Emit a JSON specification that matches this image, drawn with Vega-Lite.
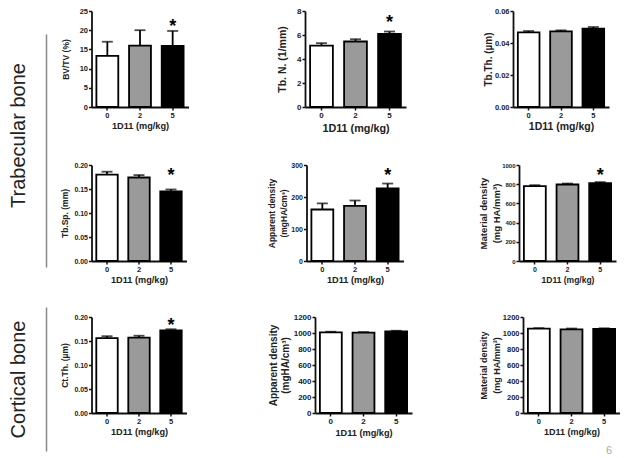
{
  "$schema": "https://vega.github.io/schema/vega-lite/v6.json",
  "background": "white",
  "padding": {"left": 7, "top": 7, "right": 0, "bottom": 0},
  "title": {"text": "6", "orient": "bottom", "anchor": "end", "color": "#aaaaaa", "fontSize": 11, "fontWeight": "normal", "font": "Liberation Sans", "offset": -6, "dx": -8},
  "config": {
    "view": {"stroke": null},
    "font": "Liberation Sans",
    "axis": {"grid": false, "minExtent": 0, "labelOverlap": false, "domainColor": "#111111", "domainWidth": 1.8, "tickColor": "#111111", "tickWidth": 1.5, "tickSize": 3, "labelFont": "Liberation Sans", "labelFontWeight": "bold", "labelColor": "#222222", "labelPadding": 1, "titleFont": "Liberation Sans", "titleFontWeight": "bold", "titleColor": "#222222"},
    "axisX": {"labelAngle": 0, "titlePadding": 3, "labelPadding": 1}
  },
  "hconcat": [
    {
      "vconcat": [
        {
          "width": 1, "height": 256,
          "data": {"values": [{"v": 0}]},
          "mark": {"type": "point", "opacity": 0, "size": 0},
          "encoding": {"y": {"field": "v", "type": "quantitative", "scale": {"domain": [0, 1], "range": [256, 23]}, "axis": {"title": "Trabecular bone", "labels": false, "ticks": false, "domainColor": "#888888", "domainWidth": 1.5, "titleFontSize": 20, "titleFontWeight": "normal", "titlePadding": 18, "titleColor": "#222222", "titleY": 124}}}
        },
        {
          "width": 1, "height": 144,
          "data": {"values": [{"v": 0}]},
          "mark": {"type": "point", "opacity": 0, "size": 0},
          "encoding": {"y": {"field": "v", "type": "quantitative", "scale": {"domain": [0, 1]}, "axis": {"title": "Cortical bone", "labels": false, "ticks": false, "domainColor": "#888888", "domainWidth": 1.5, "titleFontSize": 20, "titleFontWeight": "normal", "titlePadding": 18, "titleColor": "#222222"}}}
        }
      ],
      "spacing": 40
    },
    {
      "vconcat": [
        {
          "hconcat": [
            {
              "width": 97, "height": 96,
              "data": {"values": [
                {"dose": "0", "mean": 13.3, "upper": 17.0, "sig": ""},
                {"dose": "2", "mean": 16.0, "upper": 20.0, "sig": ""},
                {"dose": "5", "mean": 15.9, "upper": 19.8, "sig": "*"}
              ]},
              "encoding": {"x": {"field": "dose", "type": "nominal", "sort": ["0", "2", "5"], "scale": {"paddingInner": 0.33, "paddingOuter": 0.15}, "axis": {"title": "1D11 (mg/kg)", "titleFontSize": 9.2, "labelFontSize": 7.5}}},
              "layer": [
                {"mark": {"type": "rule", "strokeWidth": 1.8, "color": "#000000"}, "encoding": {"y": {"field": "mean", "type": "quantitative", "scale": {"domain": [0, 25], "nice": false}, "axis": {"values": [0, 5, 10, 15, 20, 25], "tickCount": 20, "labelOverlap": false, "format": "d", "title": "BV/TV (%)", "titleFontSize": 8.5, "titlePadding": 9, "labelFontSize": 7.5}}, "y2": {"field": "upper"}}},
                {"mark": {"type": "bar", "stroke": "#000000", "strokeWidth": 1.8}, "encoding": {"y": {"field": "mean", "type": "quantitative", "scale": {"domain": [0, 25], "nice": false}}, "fill": {"field": "dose", "type": "nominal", "scale": {"domain": ["0", "2", "5"], "range": ["#ffffff", "#9a9a9a", "#000000"]}, "legend": null}}},
                {"mark": {"type": "tick", "orient": "horizontal", "size": 11, "thickness": 1.8, "color": "#000000"}, "encoding": {"y": {"field": "upper", "type": "quantitative"}}},
                {"transform": [{"filter": "datum.sig != ''"}], "mark": {"type": "text", "fontSize": 18, "fontWeight": "bold", "baseline": "alphabetic", "dy": 1.5, "color": "#000000"}, "encoding": {"y": {"field": "upper", "type": "quantitative"}, "text": {"field": "sig"}}}
              ]
            },
            {
              "hconcat": [
                {
                  "width": 101, "height": 96,
                  "data": {"values": [
                    {"dose": "0", "mean": 5.12, "upper": 5.32, "sig": ""},
                    {"dose": "2", "mean": 5.46, "upper": 5.65, "sig": ""},
                    {"dose": "5", "mean": 6.09, "upper": 6.29, "sig": "*"}
                  ]},
                  "encoding": {"x": {"field": "dose", "type": "nominal", "sort": ["0", "2", "5"], "scale": {"paddingInner": 0.33, "paddingOuter": 0.15}, "axis": {"title": "1D11 (mg/kg)", "titleFontSize": 10.8, "labelFontSize": 8}}},
                  "layer": [
                    {"mark": {"type": "rule", "strokeWidth": 1.8, "color": "#000000"}, "encoding": {"y": {"field": "mean", "type": "quantitative", "scale": {"domain": [0, 8], "nice": false}, "axis": {"values": [0, 2, 4, 6, 8], "tickCount": 20, "labelOverlap": false, "format": "d", "title": "Tb. N. (1/mm)", "titleFontSize": 10.5, "titlePadding": 9, "labelFontSize": 8}}, "y2": {"field": "upper"}}},
                    {"mark": {"type": "bar", "stroke": "#000000", "strokeWidth": 1.8}, "encoding": {"y": {"field": "mean", "type": "quantitative", "scale": {"domain": [0, 8], "nice": false}}, "fill": {"field": "dose", "type": "nominal", "scale": {"domain": ["0", "2", "5"], "range": ["#ffffff", "#9a9a9a", "#000000"]}, "legend": null}}},
                    {"mark": {"type": "tick", "orient": "horizontal", "size": 11, "thickness": 1.8, "color": "#000000"}, "encoding": {"y": {"field": "upper", "type": "quantitative"}}},
                    {"transform": [{"filter": "datum.sig != ''"}], "mark": {"type": "text", "fontSize": 18, "fontWeight": "bold", "baseline": "alphabetic", "dy": -4, "color": "#000000"}, "encoding": {"y": {"field": "upper", "type": "quantitative"}, "text": {"field": "sig"}}}
                  ]
                },
                {
                  "width": 96, "height": 96,
                  "data": {"values": [
                    {"dose": "0", "mean": 0.0467, "upper": 0.0475, "sig": ""},
                    {"dose": "2", "mean": 0.0473, "upper": 0.0479, "sig": ""},
                    {"dose": "5", "mean": 0.0490, "upper": 0.0500, "sig": ""}
                  ]},
                  "encoding": {"x": {"field": "dose", "type": "nominal", "sort": ["0", "2", "5"], "scale": {"paddingInner": 0.33, "paddingOuter": 0.15}, "axis": {"title": "1D11 (mg/kg)", "titleFontSize": 10.5, "labelFontSize": 7.5}}},
                  "layer": [
                    {"mark": {"type": "rule", "strokeWidth": 1.8, "color": "#000000"}, "encoding": {"y": {"field": "mean", "type": "quantitative", "scale": {"domain": [0, 0.06], "nice": false}, "axis": {"values": [0, 0.02, 0.04, 0.06], "tickCount": 20, "labelOverlap": false, "format": ".2f", "title": "Tb.Th. (µm)", "titleFontSize": 10, "titlePadding": 1, "labelFontSize": 7.5}}, "y2": {"field": "upper"}}},
                    {"mark": {"type": "bar", "stroke": "#000000", "strokeWidth": 1.8}, "encoding": {"y": {"field": "mean", "type": "quantitative", "scale": {"domain": [0, 0.06], "nice": false}}, "fill": {"field": "dose", "type": "nominal", "scale": {"domain": ["0", "2", "5"], "range": ["#ffffff", "#9a9a9a", "#000000"]}, "legend": null}}},
                    {"mark": {"type": "tick", "orient": "horizontal", "size": 11, "thickness": 1.8, "color": "#000000"}, "encoding": {"y": {"field": "upper", "type": "quantitative"}}}
                  ]
                }
              ],
              "spacing": 77
            }
          ],
          "spacing": 88.5
        },
        {
          "hconcat": [
            {
              "width": 95, "height": 96,
              "data": {"values": [
                {"dose": "0", "mean": 0.180, "upper": 0.186, "sig": ""},
                {"dose": "2", "mean": 0.174, "upper": 0.179, "sig": ""},
                {"dose": "5", "mean": 0.145, "upper": 0.149, "sig": "*"}
              ]},
              "encoding": {"x": {"field": "dose", "type": "nominal", "sort": ["0", "2", "5"], "scale": {"paddingInner": 0.33, "paddingOuter": 0.15}, "axis": {"title": "1D11 (mg/kg)", "titleFontSize": 9.2, "labelFontSize": 7.5}}},
              "layer": [
                {"mark": {"type": "rule", "strokeWidth": 1.8, "color": "#000000"}, "encoding": {"y": {"field": "mean", "type": "quantitative", "scale": {"domain": [0, 0.2], "nice": false}, "axis": {"values": [0, 0.05, 0.1, 0.15, 0.2], "tickCount": 20, "labelOverlap": false, "format": ".2f", "title": "Tb.Sp. (mm)", "titleFontSize": 8.5, "titlePadding": 4, "labelFontSize": 7}}, "y2": {"field": "upper"}}},
                {"mark": {"type": "bar", "stroke": "#000000", "strokeWidth": 1.8}, "encoding": {"y": {"field": "mean", "type": "quantitative", "scale": {"domain": [0, 0.2], "nice": false}}, "fill": {"field": "dose", "type": "nominal", "scale": {"domain": ["0", "2", "5"], "range": ["#ffffff", "#9a9a9a", "#000000"]}, "legend": null}}},
                {"mark": {"type": "tick", "orient": "horizontal", "size": 11, "thickness": 1.8, "color": "#000000"}, "encoding": {"y": {"field": "upper", "type": "quantitative"}}},
                {"transform": [{"filter": "datum.sig != ''"}], "mark": {"type": "text", "fontSize": 18, "fontWeight": "bold", "baseline": "alphabetic", "dy": -8.5, "color": "#000000"}, "encoding": {"y": {"field": "upper", "type": "quantitative"}, "text": {"field": "sig"}}}
              ]
            },
            {
              "hconcat": [
                {
                  "width": 97, "height": 96,
                  "data": {"values": [
                    {"dose": "0", "mean": 161, "upper": 180, "sig": ""},
                    {"dose": "2", "mean": 172, "upper": 189, "sig": ""},
                    {"dose": "5", "mean": 227, "upper": 242, "sig": "*"}
                  ]},
                  "encoding": {"x": {"field": "dose", "type": "nominal", "sort": ["0", "2", "5"], "scale": {"paddingInner": 0.33, "paddingOuter": 0.15}, "axis": {"title": "1D11 (mg/kg)", "titleFontSize": 9.2, "labelFontSize": 7.5}}},
                  "layer": [
                    {"mark": {"type": "rule", "strokeWidth": 1.8, "color": "#000000"}, "encoding": {"y": {"field": "mean", "type": "quantitative", "scale": {"domain": [0, 300], "nice": false}, "axis": {"values": [0, 100, 200, 300], "tickCount": 20, "labelOverlap": false, "format": "d", "title": ["Apparent density", "(mgHA/cm³)"], "titleFontSize": 8.5, "titleLineHeight": 12, "titlePadding": 2, "labelFontSize": 7}}, "y2": {"field": "upper"}}},
                    {"mark": {"type": "bar", "stroke": "#000000", "strokeWidth": 1.8}, "encoding": {"y": {"field": "mean", "type": "quantitative", "scale": {"domain": [0, 300], "nice": false}}, "fill": {"field": "dose", "type": "nominal", "scale": {"domain": ["0", "2", "5"], "range": ["#ffffff", "#9a9a9a", "#000000"]}, "legend": null}}},
                    {"mark": {"type": "tick", "orient": "horizontal", "size": 11, "thickness": 1.8, "color": "#000000"}, "encoding": {"y": {"field": "upper", "type": "quantitative"}}},
                    {"transform": [{"filter": "datum.sig != ''"}], "mark": {"type": "text", "fontSize": 18, "fontWeight": "bold", "baseline": "alphabetic", "dy": -2.5, "color": "#000000"}, "encoding": {"y": {"field": "upper", "type": "quantitative"}, "text": {"field": "sig"}}}
                  ]
                },
                {
                  "width": 97, "height": 96,
                  "data": {"values": [
                    {"dose": "0", "mean": 780, "upper": 790, "sig": ""},
                    {"dose": "2", "mean": 797, "upper": 807, "sig": ""},
                    {"dose": "5", "mean": 811, "upper": 822, "sig": "*"}
                  ]},
                  "encoding": {"x": {"field": "dose", "type": "nominal", "sort": ["0", "2", "5"], "scale": {"paddingInner": 0.33, "paddingOuter": 0.15}, "axis": {"title": "1D11 (mg/kg)", "titleFontSize": 8.5, "labelFontSize": 7}}},
                  "layer": [
                    {"mark": {"type": "rule", "strokeWidth": 1.8, "color": "#000000"}, "encoding": {"y": {"field": "mean", "type": "quantitative", "scale": {"domain": [0, 1000], "nice": false}, "axis": {"values": [0, 200, 400, 600, 800, 1000], "tickCount": 20, "labelOverlap": false, "format": "d", "title": ["Material density", "(mg HA/mm³)"], "titleFontSize": 9.5, "titleLineHeight": 13, "titlePadding": 0, "labelFontSize": 6}}, "y2": {"field": "upper"}}},
                    {"mark": {"type": "bar", "stroke": "#000000", "strokeWidth": 1.8}, "encoding": {"y": {"field": "mean", "type": "quantitative", "scale": {"domain": [0, 1000], "nice": false}}, "fill": {"field": "dose", "type": "nominal", "scale": {"domain": ["0", "2", "5"], "range": ["#ffffff", "#9a9a9a", "#000000"]}, "legend": null}}},
                    {"mark": {"type": "tick", "orient": "horizontal", "size": 11, "thickness": 1.8, "color": "#000000"}, "encoding": {"y": {"field": "upper", "type": "quantitative"}}},
                    {"transform": [{"filter": "datum.sig != ''"}], "mark": {"type": "text", "fontSize": 18, "fontWeight": "bold", "baseline": "alphabetic", "dy": -1.5, "color": "#000000"}, "encoding": {"y": {"field": "upper", "type": "quantitative"}, "text": {"field": "sig"}}}
                  ]
                }
              ],
              "spacing": 74.5
            }
          ],
          "spacing": 81
        },
        {
          "hconcat": [
            {
              "width": 95, "height": 96,
              "data": {"values": [
                {"dose": "0", "mean": 0.156, "upper": 0.160, "sig": ""},
                {"dose": "2", "mean": 0.157, "upper": 0.161, "sig": ""},
                {"dose": "5", "mean": 0.172, "upper": 0.1745, "sig": "*"}
              ]},
              "encoding": {"x": {"field": "dose", "type": "nominal", "sort": ["0", "2", "5"], "scale": {"paddingInner": 0.33, "paddingOuter": 0.15}, "axis": {"title": "1D11 (mg/kg)", "titleFontSize": 9.2, "labelFontSize": 7.5}}},
              "layer": [
                {"mark": {"type": "rule", "strokeWidth": 1.8, "color": "#000000"}, "encoding": {"y": {"field": "mean", "type": "quantitative", "scale": {"domain": [0, 0.2], "nice": false}, "axis": {"values": [0, 0.05, 0.1, 0.15, 0.2], "tickCount": 20, "labelOverlap": false, "format": ".2f", "title": "Ct.Th. (µm)", "titleFontSize": 8.5, "titlePadding": 4, "labelFontSize": 7}}, "y2": {"field": "upper"}}},
                {"mark": {"type": "bar", "stroke": "#000000", "strokeWidth": 1.8}, "encoding": {"y": {"field": "mean", "type": "quantitative", "scale": {"domain": [0, 0.2], "nice": false}}, "fill": {"field": "dose", "type": "nominal", "scale": {"domain": ["0", "2", "5"], "range": ["#ffffff", "#9a9a9a", "#000000"]}, "legend": null}}},
                {"mark": {"type": "tick", "orient": "horizontal", "size": 11, "thickness": 1.8, "color": "#000000"}, "encoding": {"y": {"field": "upper", "type": "quantitative"}}},
                {"transform": [{"filter": "datum.sig != ''"}], "mark": {"type": "text", "fontSize": 18, "fontWeight": "bold", "baseline": "alphabetic", "dy": 2, "color": "#000000"}, "encoding": {"y": {"field": "upper", "type": "quantitative"}, "text": {"field": "sig"}}}
              ]
            },
            {
              "hconcat": [
                {
                  "width": 97, "height": 96,
                  "data": {"values": [
                    {"dose": "0", "mean": 1008, "upper": 1016, "sig": ""},
                    {"dose": "2", "mean": 1004, "upper": 1012, "sig": ""},
                    {"dose": "5", "mean": 1021, "upper": 1028, "sig": ""}
                  ]},
                  "encoding": {"x": {"field": "dose", "type": "nominal", "sort": ["0", "2", "5"], "scale": {"paddingInner": 0.33, "paddingOuter": 0.15}, "axis": {"title": "1D11 (mg/kg)", "titleFontSize": 9.2, "labelFontSize": 8}}},
                  "layer": [
                    {"mark": {"type": "rule", "strokeWidth": 1.8, "color": "#000000"}, "encoding": {"y": {"field": "mean", "type": "quantitative", "scale": {"domain": [0, 1200], "nice": false}, "axis": {"values": [0, 200, 400, 600, 800, 1000, 1200], "tickCount": 20, "labelOverlap": false, "format": "d", "title": ["Apparent density", "(mgHA/cm³)"], "titleFontSize": 10, "titleLineHeight": 12.5, "titlePadding": 2.5, "labelFontSize": 8}}, "y2": {"field": "upper"}}},
                    {"mark": {"type": "bar", "stroke": "#000000", "strokeWidth": 1.8}, "encoding": {"y": {"field": "mean", "type": "quantitative", "scale": {"domain": [0, 1200], "nice": false}}, "fill": {"field": "dose", "type": "nominal", "scale": {"domain": ["0", "2", "5"], "range": ["#ffffff", "#9a9a9a", "#000000"]}, "legend": null}}},
                    {"mark": {"type": "tick", "orient": "horizontal", "size": 11, "thickness": 1.8, "color": "#000000"}, "encoding": {"y": {"field": "upper", "type": "quantitative"}}}
                  ]
                },
                {
                  "width": 97, "height": 96,
                  "data": {"values": [
                    {"dose": "0", "mean": 1054, "upper": 1061, "sig": ""},
                    {"dose": "2", "mean": 1046, "upper": 1056, "sig": ""},
                    {"dose": "5", "mean": 1052, "upper": 1059, "sig": ""}
                  ]},
                  "encoding": {"x": {"field": "dose", "type": "nominal", "sort": ["0", "2", "5"], "scale": {"paddingInner": 0.33, "paddingOuter": 0.15}, "axis": {"title": "1D11 (mg/kg)", "titleFontSize": 9, "labelFontSize": 7.5}}},
                  "layer": [
                    {"mark": {"type": "rule", "strokeWidth": 1.8, "color": "#000000"}, "encoding": {"y": {"field": "mean", "type": "quantitative", "scale": {"domain": [0, 1200], "nice": false}, "axis": {"values": [0, 200, 400, 600, 800, 1000, 1200], "tickCount": 20, "labelOverlap": false, "format": "d", "title": ["Material density", "(mg HA/mm³)"], "titleFontSize": 9, "titleLineHeight": 13, "titlePadding": 1, "labelFontSize": 7.5}}, "y2": {"field": "upper"}}},
                    {"mark": {"type": "bar", "stroke": "#000000", "strokeWidth": 1.8}, "encoding": {"y": {"field": "mean", "type": "quantitative", "scale": {"domain": [0, 1200], "nice": false}}, "fill": {"field": "dose", "type": "nominal", "scale": {"domain": ["0", "2", "5"], "range": ["#ffffff", "#9a9a9a", "#000000"]}, "legend": null}}},
                    {"mark": {"type": "tick", "orient": "horizontal", "size": 11, "thickness": 1.8, "color": "#000000"}, "encoding": {"y": {"field": "upper", "type": "quantitative"}}}
                  ]
                }
              ],
              "spacing": 67
            }
          ],
          "spacing": 81.5
        }
      ],
      "spacing": 28
    }
  ],
  "spacing": 13.5
}
